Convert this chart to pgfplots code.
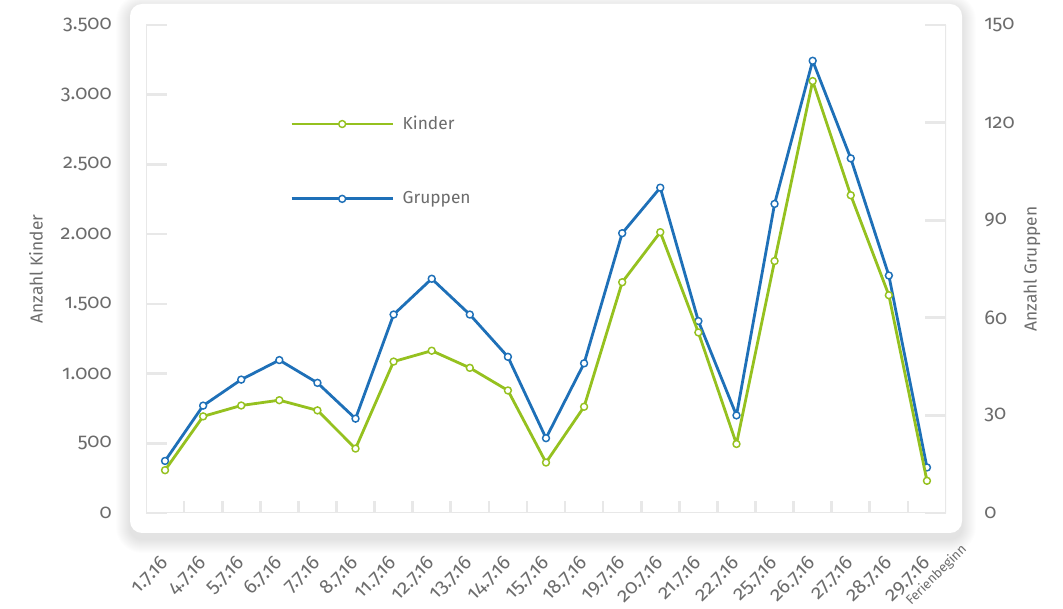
\documentclass[border=0pt]{standalone}
\usepackage{fontspec}
\setmainfont[Numbers=OldStyle]{Fira Sans}
\usepackage{pgfplots}
\pgfplotsset{compat=1.18}
\usepackage{pgfplotstable}

\definecolor{kindergreen}{RGB}{149,193,31}
\definecolor{gruppenblue}{RGB}{30,112,184}
\definecolor{framegray}{RGB}{232,232,232}
\definecolor{labelgray}{RGB}{108,108,108}

% Besuche pro Tag: Kinder (linke Achse), Gruppen (rechte Achse)
\pgfplotstableread{
idx kinder gruppen
0   307  16
1   693  33
2   771  41
3   809  47
4   736  40
5   462  29
6   1086 61
7   1164 72
8   1041 61
9   879  48
10  362  23
11  762  46
12  1655 86
13  2014 100
14  1295 59
15  495  30
16  1807 95
17  3098 139
18  2279 109
19  1562 73
20  231  14
}\besuche

\pgfplotsset{
  common/.style={
    at={(axisorigin)}, anchor=south west,
    width=600pt, height=366pt, scale only axis,
    xmin=-0.5, xmax=20.5,
    axis line style={draw=none},
    tick align=inside,
    tick style={framegray, line width=2pt},
    major tick length=15.75pt,
    minor tick length=9pt,
    scaled y ticks=false,
    /pgf/number format/assume math mode=true,
    /pgf/number format/1000 sep={.},
    yticklabel style={inner sep=0pt, text=labelgray, font=\fontsize{15}{17}\selectfont},
    ylabel style={text=labelgray, font=\fontsize{13}{15}\selectfont, anchor=center},
    legend image code/.code={%
      \draw[mark repeat=2, mark phase=2] plot coordinates {(0pt,0pt) (37.9pt,0pt) (75.75pt,0pt)};},
  },
  serie/.style={color=#1, line width=2.1pt, line join=round, mark=*, mark size=2.6pt,
    mark options={fill=white, draw=#1, line width=1.1pt}},
}

\begin{document}
\begin{tikzpicture}[x=0.75pt, y=0.75pt]
\useasboundingbox (0,0) rectangle (1063,609);
\coordinate (axisorigin) at (146,96);

% weicher Schatten unter der Karte
\foreach \s in {1,...,14} {
  \pgfmathsetmacro{\rc}{9+0.75*\s}
  \fill[black, opacity=0.007, rounded corners=\rc pt]
    (130-\s, 76-6-\s) rectangle (962+\s, 605-4+\s);
}
\fill[white, rounded corners=9pt] (130,76) rectangle (962,605);

% rechte Achse: Gruppen, mit Rahmen und Datumsbeschriftung
\begin{axis}[common,
  ymin=0, ymax=150,
  ytick={0,30,...,150}, ytick pos=right,
  yticklabel style={anchor=west},
  yticklabel shift=28.5pt,
  xtick={0,...,20}, xtick pos=left,
  minor x tick num=1,
  major x tick style={draw=none},
  xticklabel style={rotate=45, anchor=east, inner sep=0pt, text=labelgray,
    font=\fontsize{15}{17}\selectfont},
  xticklabel shift=35pt,
  xticklabels={1.7.16, 4.7.16, 5.7.16, 6.7.16, 7.7.16, 8.7.16, 11.7.16, 12.7.16,
    13.7.16, 14.7.16, 15.7.16, 18.7.16, 19.7.16, 20.7.16, 21.7.16, 22.7.16,
    25.7.16, 26.7.16, 27.7.16, 28.7.16,
    {\rlap{\raisebox{-12pt}[0pt][0pt]{\hspace{8pt}\fontsize{10}{10}\selectfont Ferienbeginn}}29.7.16}},
  ylabel={Anzahl Gruppen},
  ylabel style={at={(rel axis cs:1.1075,0.5)}},
]
\draw[framegray, line width=2pt] (rel axis cs:0,1) -- (rel axis cs:0,0)
  -- (rel axis cs:1,0) -- (rel axis cs:1,1);
\addplot[serie=gruppenblue] table[x=idx, y=gruppen] {\besuche};
\end{axis}

% linke Achse: Kinder
\begin{axis}[common,
  ymin=0, ymax=3500,
  ytick={0,500,...,3500}, ytick pos=left,
  yticklabel style={anchor=east},
  yticklabel shift=25.5pt,
  xtick=\empty,
  ylabel={Anzahl Kinder},
  ylabel style={at={(rel axis cs:-0.1375,0.5)}},
  legend style={at={(rel axis cs:0.18,0.8135)}, anchor=north west,
    draw=none, fill=none, inner sep=0pt, row sep=45pt, column sep=6.5pt,
    nodes={inner sep=0pt}, text=labelgray, font=\fontsize{13}{15}\selectfont},
  legend cell align=left,
]
\addplot[serie=kindergreen] table[x=idx, y=kinder] {\besuche};
\addlegendentry{Kinder}
\addlegendimage{serie=gruppenblue}
\addlegendentry{Gruppen}
\end{axis}
\end{tikzpicture}
\end{document}
